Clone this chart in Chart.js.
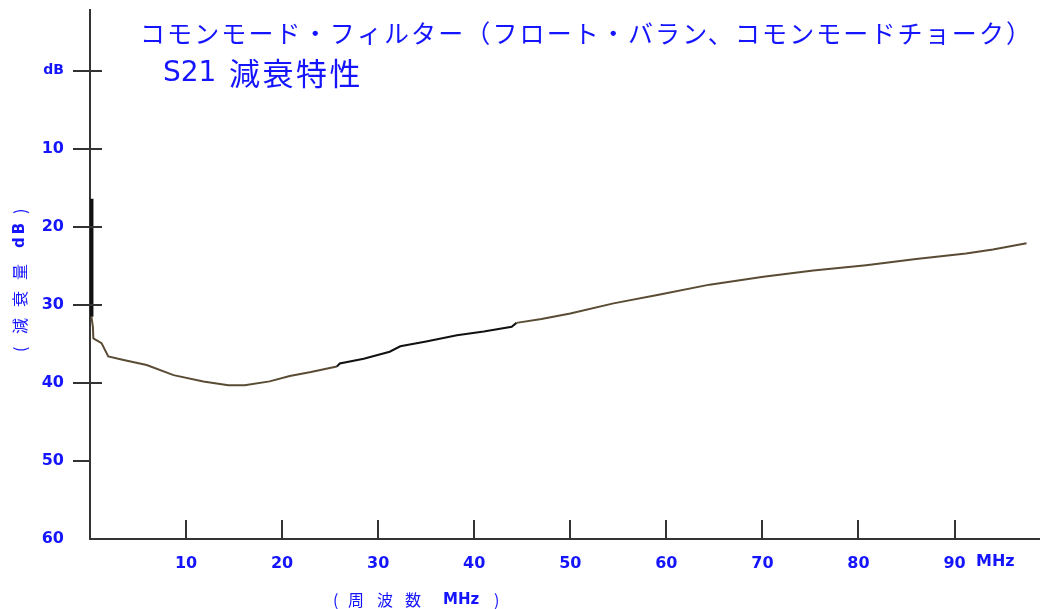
<!DOCTYPE html>
<html>
<head>
<meta charset="utf-8">
<script src="https://cdn.jsdelivr.net/npm/chart.js@4/dist/chart.umd.min.js"></script>
<style>
  html, body { margin: 0; padding: 0; background: #fff; }
  #wrap { width: 1040px; height: 609px; }
</style>
</head>
<body>
<div id="wrap"><canvas id="c"></canvas></div>
<script>
// --- data ---
const freqMHz = [0.15, 0.15, 0.3, 0.35, 1.2, 1.9, 3.5, 5.9, 8.7, 11.8, 14.4, 16.1, 18.7,
  20.8, 23.0, 25.7, 26.0, 28.5, 31.2, 32.3, 35.0, 38.2, 41.0, 43.9, 44.4, 47.0, 50.0,
  54.5, 59.2, 64.5, 70.1, 75.3, 80.8, 86.0, 91.2, 94.0, 97.5];
const attenDb = [16.4, 31.5, 32.8, 34.3, 34.9, 36.6, 37.05, 37.7, 39.0, 39.8, 40.3, 40.3, 39.8,
  39.1, 38.6, 37.9, 37.5, 36.9, 36.0, 35.3, 34.7, 33.9, 33.4, 32.8, 32.3, 31.8, 31.1,
  29.8, 28.7, 27.4, 26.4, 25.6, 24.9, 24.1, 23.4, 22.9, 22.1];
const yTicks = [0, 10, 20, 30, 40, 50, 60];
const xTicks = [10, 20, 30, 40, 50, 60, 70, 80, 90];
const yInnerTicks = [0, 10, 20, 30, 40];

const titleLine1 = 'コモンモード・フィルター（フロート・バラン、コモンモードチョーク）';
const titleLine2a = 'S21';
const titleLine2b = '減衰特性';
// axis titles split in words: [text, offset along the axis]
const xTitleParts = [['(', 333], ['周', 348], ['波', 377], ['数', 405], ['MHz', 443], [')', 494]];
const yTitleParts = [['(', 352], ['減', 334], ['衰', 307], ['量', 280], ['dB', 248], [')', 214]];

const BLUE = '#1414ff';
const AXIS = '#333';
const JP = '"Noto Sans CJK JP", "Noto Sans", sans-serif';
const NUM = '"DejaVu Sans", sans-serif';

// fit a string into a given width with letter spacing
function spaced(ctx, text, x, y, width) {
  ctx.letterSpacing = '0px';
  const w = ctx.measureText(text).width;
  ctx.letterSpacing = ((width - w) / text.length).toFixed(2) + 'px';
  ctx.fillText(text, x, y);
  ctx.letterSpacing = '0px';
}
const partFont = t => /^[A-Za-z0-9]+$/.test(t) ? 'bold 15px ' + NUM : '16px ' + JP;

// ticks drawn inside the plot + free texts
const extras = {
  id: 'extras',
  afterDraw(chart) {
    const { ctx, chartArea: a, scales: { x, y } } = chart;
    ctx.save();
    ctx.strokeStyle = AXIS;
    ctx.lineWidth = 2;
    ctx.beginPath();
    yInnerTicks.forEach(v => {
      const py = Math.round(y.getPixelForValue(v));
      ctx.moveTo(a.left, py); ctx.lineTo(a.left + 12, py);
    });
    xTicks.forEach(v => {
      const px = Math.round(x.getPixelForValue(v));
      ctx.moveTo(px, a.bottom); ctx.lineTo(px, a.bottom - 19);
    });
    ctx.stroke();

    ctx.fillStyle = BLUE;
    ctx.textBaseline = 'middle';
    ctx.textAlign = 'left';
    // title
    ctx.font = '25px ' + JP;
    spaced(ctx, titleLine1, 140, 33, 893);
    ctx.font = '28px ' + NUM;
    ctx.fillText(titleLine2a, 163, 74);
    ctx.font = '31px ' + JP;
    spaced(ctx, titleLine2b, 229, 73, 134);
    // "MHz" beside 90
    ctx.font = 'bold 16px ' + NUM;
    ctx.fillText('MHz', 976, 562);
    // x axis title
    xTitleParts.forEach(([t, px]) => {
      ctx.font = partFont(t);
      ctx.fillText(t, px, 600);
    });
    // y axis title (rotated, read bottom to top)
    ctx.translate(20, 0);
    ctx.rotate(-Math.PI / 2);
    yTitleParts.forEach(([t, py]) => {
      ctx.font = partFont(t);
      ctx.letterSpacing = t === 'dB' ? '3px' : '0px';
      ctx.fillText(t, -py, 0);
    });
    ctx.restore();
  }
};

new Chart(document.getElementById('c'), {
  type: 'line',
  data: {
    datasets: [{
      data: freqMHz.map((f, i) => ({ x: f, y: attenDb[i] })),
      borderColor: '#5a4c34',
      borderWidth: 2,
      pointRadius: 0,
      tension: 0,
      segment: {
        borderColor: c => {
          const f = freqMHz[c.p0DataIndex];
          return (c.p0DataIndex === 0 || (f >= 25.7 && f < 44.4)) ? '#111' : '#5a4c34';
        },
        borderWidth: c => c.p0DataIndex === 0 ? 4 : 2
      }
    }]
  },
  options: {
    responsive: true,
    maintainAspectRatio: false,
    animation: false,
    layout: { padding: { top: 10, right: 0, bottom: 0, left: 0 } },
    plugins: { legend: { display: false }, tooltip: { enabled: false }, title: { display: false } },
    scales: {
      x: {
        type: 'linear',
        min: 0,
        max: 98.9,
        afterBuildTicks: s => { s.ticks = xTicks.map(v => ({ value: v })); },
        afterFit: s => { s.height = 70; s.paddingLeft = 0; s.paddingRight = 0; },
        grid: { display: false },
        border: { display: true, color: AXIS, width: 2 },
        ticks: {
          color: BLUE,
          padding: 7,
          maxRotation: 0,
          font: { family: NUM, size: 16, weight: 'bold' }
        }
      },
      y: {
        type: 'linear',
        reverse: true,
        min: -7.8,
        max: 60,
        afterBuildTicks: s => { s.ticks = yTicks.map(v => ({ value: v })); },
        afterFit: s => { s.width = 90; s.paddingTop = 0; s.paddingBottom = 0; },
        grid: {
          drawOnChartArea: false,
          drawTicks: true,
          tickLength: 17,
          lineWidth: 2,
          color: c => (c.tick && c.tick.value === 60) ? 'rgba(0,0,0,0)' : AXIS
        },
        border: { display: true, color: AXIS, width: 2 },
        ticks: {
          color: BLUE,
          padding: 9,
          callback: v => v === 0 ? 'dB' : v,
          font: c => ({ family: NUM, weight: 'bold', size: (c.tick && c.tick.value === 0) ? 14 : 16 })
        }
      }
    }
  },
  plugins: [extras]
});
</script>
</body>
</html>
